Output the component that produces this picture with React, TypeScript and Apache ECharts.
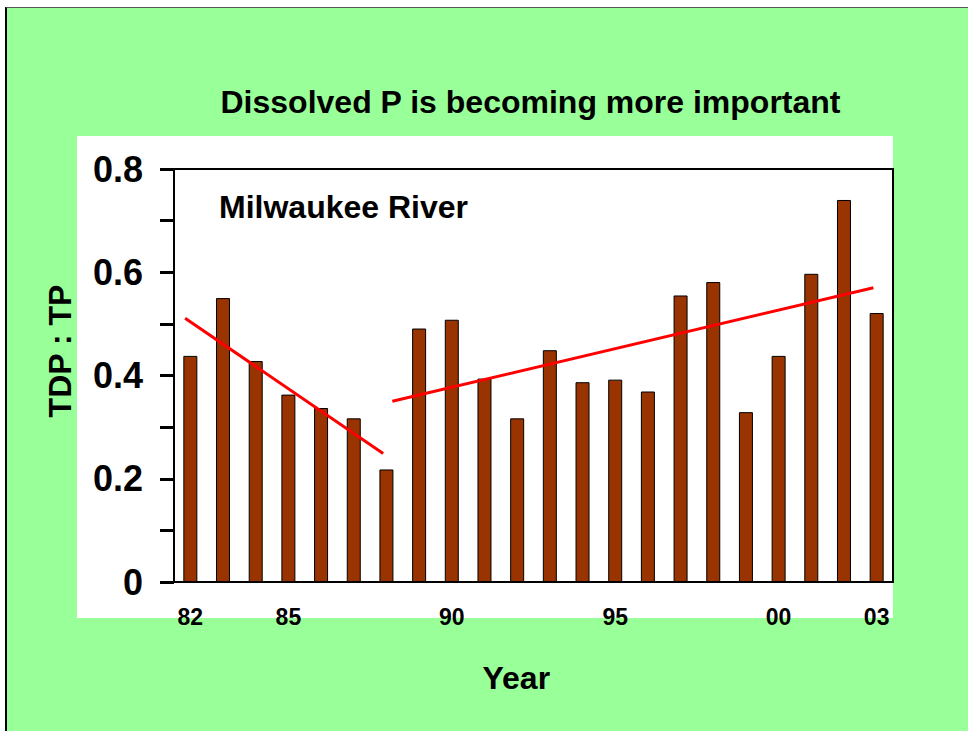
import React, { useEffect, useRef } from "react";
import * as echarts from "echarts";

const years = ["1982","1983","1984","1985","1986","1987","1988","1989","1990","1991","1992","1993","1994","1995","1996","1997","1998","1999","2000","2001","2002","2003"];
const xTickLabels = ["82","","","85","","","","","90","","","","","95","","","","","00","","","03"];
const ratio = [0.438,0.550,0.428,0.363,0.337,0.317,0.218,0.491,0.508,0.394,0.317,0.449,0.387,0.392,0.369,0.555,0.581,0.329,0.438,0.597,0.740,0.521];
const yTickLabels = ["0","0.2","0.4","0.6","0.8"];
// trend lines: [category position, value]
const trendEarly = [[-0.16, 0.511], [5.9, 0.249]];
const trendLate = [[6.18, 0.350], [20.9, 0.570]];

const FONT = 'Arial, "Liberation Sans", Helvetica, sans-serif';

export default function App() {
  const ref = useRef<HTMLDivElement>(null);
  useEffect(() => {
    if (!ref.current) return;
    const chart = echarts.init(ref.current, null, { renderer: "svg" });
    chart.setOption({
      animation: false,
      backgroundColor: "transparent",
      grid: {
        left: 174, top: 169, right: 75, bottom: 149,
        show: true, borderColor: "#000", borderWidth: 2, backgroundColor: "transparent",
      },
      xAxis: [
        {
          type: "category",
          data: years,
          boundaryGap: true,
          axisLine: { onZero: false, lineStyle: { color: "#000", width: 2 } },
          axisTick: { interval: 0, length: 5, lineStyle: { color: "#000", width: 1 } },
          axisLabel: {
            interval: 0, margin: 23, color: "#000", fontFamily: FONT, fontWeight: "bold", fontSize: 23,
            formatter: (_v: string, i: number) => xTickLabels[i],
          },
          splitLine: { show: false },
        },
        {
          type: "value", min: -0.5, max: 21.5, show: false,
        },
      ],
      yAxis: {
        type: "value",
        min: 0, max: 0.8, interval: 0.1,
        axisLine: { show: true, onZero: false, lineStyle: { color: "#000", width: 2 } },
        axisTick: { show: true, inside: false, length: 14, lineStyle: { color: "#000", width: 3 } },
        axisLabel: {
          margin: 31, color: "#000", fontFamily: FONT, fontWeight: "bold", fontSize: 36,
          formatter: (v: number) => {
            const k = Math.round(v * 10);
            return k % 2 === 0 ? yTickLabels[k / 2] : "";
          },
        },
        splitLine: { show: false },
      },
      series: [
        {
          type: "bar",
          data: ratio,
          barWidth: 14,
          itemStyle: { color: "#993300", borderColor: "#000", borderWidth: 1 },
        },
        {
          type: "line", xAxisIndex: 1, data: trendEarly, symbol: "none",
          lineStyle: { color: "#ff0000", width: 3 }, z: 5,
        },
        {
          type: "line", xAxisIndex: 1, data: trendLate, symbol: "none",
          lineStyle: { color: "#ff0000", width: 3 }, z: 5,
        },
      ],
      graphic: [
        {
          type: "text", x: 530.5, y: 102,
          style: { text: "Dissolved P is becoming more important", font: `bold 32px ${FONT}`, fill: "#000", align: "center", verticalAlign: "middle" },
        },
        {
          type: "text", x: 219, y: 207,
          style: { text: "Milwaukee River", font: `bold 32px ${FONT}`, fill: "#000", align: "left", verticalAlign: "middle" },
        },
        {
          type: "text", x: 516.3, y: 677.5,
          style: { text: "Year", font: `bold 32px ${FONT}`, fill: "#000", align: "center", verticalAlign: "middle" },
        },
        {
          type: "text", x: 60, y: 351, rotation: Math.PI / 2,
          style: { text: "TDP : TP", font: `bold 32px ${FONT}`, fill: "#000", align: "center", verticalAlign: "middle" },
        },
      ],
    });
    return () => chart.dispose();
  }, []);

  return (
    <div style={{ position: "fixed", left: 0, top: 0, width: 968, height: 731, background: "#fff", overflow: "hidden" }}>
      <div style={{ position: "absolute", left: 5, top: 7, width: 963, height: 724, background: "#99ff99", borderTop: "1px solid #555", borderLeft: "2px solid #000", boxSizing: "border-box" }} />
      <div style={{ position: "absolute", left: 77, top: 136, width: 816, height: 482, background: "#fff" }} />
      <div ref={ref} style={{ position: "absolute", left: 0, top: 0, width: 968, height: 731 }} />
    </div>
  );
}
